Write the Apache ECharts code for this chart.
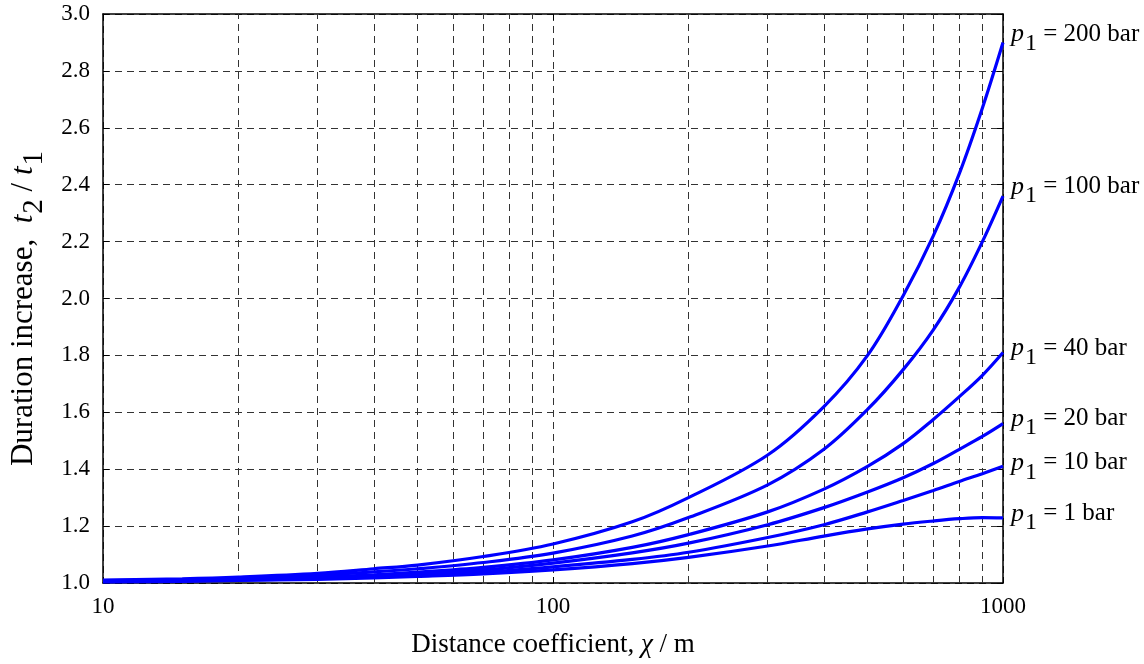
<!DOCTYPE html>
<html>
<head>
<meta charset="utf-8">
<script src="https://cdn.jsdelivr.net/npm/echarts@6/dist/echarts.min.js"></script>
<style>
  html, body { margin: 0; padding: 0; background: #fff; }
  #main { width: 1144px; height: 664px; }
</style>
</head>
<body>
<div id="main"></div>
<script>
// distance coefficient (m)
const distance = [10, 15, 20, 30, 40, 50, 70, 100, 150, 200, 300, 400, 500, 600, 700, 800, 900, 1000];

// duration increase t2/t1 for each initial pressure
const p200 = [1.010, 1.015, 1.021, 1.034, 1.050, 1.063, 1.093, 1.137, 1.215, 1.300, 1.450, 1.620, 1.800, 2.010, 2.220, 2.440, 2.670, 2.900];
const p100 = [1.008, 1.012, 1.017, 1.028, 1.039, 1.050, 1.072, 1.105, 1.165, 1.230, 1.345, 1.470, 1.610, 1.750, 1.890, 2.040, 2.200, 2.360];
const p40 = [1.007, 1.010, 1.014, 1.021, 1.029, 1.038, 1.055, 1.081, 1.125, 1.170, 1.250, 1.330, 1.410, 1.490, 1.575, 1.655, 1.730, 1.810];
const p20 = [1.006, 1.009, 1.012, 1.018, 1.025, 1.032, 1.046, 1.070, 1.106, 1.140, 1.205, 1.265, 1.320, 1.370, 1.420, 1.470, 1.515, 1.560];
const p10 = [1.005, 1.008, 1.010, 1.016, 1.021, 1.027, 1.038, 1.057, 1.083, 1.108, 1.160, 1.205, 1.250, 1.290, 1.325, 1.357, 1.384, 1.410];
const p1 = [1.004, 1.006, 1.009, 1.013, 1.018, 1.023, 1.032, 1.046, 1.068, 1.090, 1.130, 1.165, 1.190, 1.207, 1.218, 1.226, 1.230, 1.229];

const pressures = ['200', '100', '40', '20', '10', '1'];
const curves = [p200, p100, p40, p20, p10, p1];

// log axis in-between grid positions
const minorGrid = [20, 30, 40, 50, 60, 70, 80, 90, 200, 300, 400, 500, 600, 700, 800, 900];

const FONT = 'Liberation Serif';
const gridLine = { color: '#333', width: 1, type: [7, 5] };
// vertical nudge of each end label
const labelShift = [-7, -8, -3, -4, -2, -3];

const labelRich = {
  it: { fontFamily: FONT, fontStyle: 'italic', fontSize: 26, color: '#000', lineHeight: 28, verticalAlign: 'top' },
  sub: { fontFamily: FONT, fontSize: 24, color: '#000', lineHeight: 28, verticalAlign: 'top', padding: [10, 0, 0, 1] },
  n: { fontFamily: FONT, fontSize: 25, color: '#000', lineHeight: 28, verticalAlign: 'top' }
};

function nameRich(size) {
  return {
    it: { fontFamily: FONT, fontStyle: 'italic', fontSize: size, color: '#000', lineHeight: size + 2, verticalAlign: 'top' },
    sub: { fontFamily: FONT, fontSize: size - 2, color: '#000', lineHeight: size + 2, verticalAlign: 'top', padding: [Math.round(size * 0.4), 0, 0, 1] },
    n: { fontFamily: FONT, fontSize: size, color: '#000', lineHeight: size + 2, verticalAlign: 'top' }
  };
}

const series = curves.map(function (vals, i) {
  const s = {
    name: pressures[i] + ' bar',
    type: 'line',
    data: distance.map(function (d, j) { return [d, vals[j]]; }),
    smooth: 0.35,
    symbol: 'none',
    lineStyle: { color: '#0000ff', width: 3.2 },
    endLabel: {
      show: true,
      distance: 8,
      offset: [0, labelShift[i]],
      formatter: '{it|p}{sub|1}{n| = ' + pressures[i] + ' bar}',
      rich: labelRich
    },
    z: 5
  };
  if (i === 0) {
    s.markLine = {
      silent: true,
      symbol: 'none',
      label: { show: false },
      lineStyle: gridLine,
      emphasis: { disabled: true },
      z: 1,
      data: minorGrid.map(function (v) { return { xAxis: v }; })
    };
  }
  return s;
});

const chart = echarts.init(document.getElementById('main'), null, { renderer: 'canvas' });

const option = {
  animation: false,
  backgroundColor: '#fff',
  grid: { left: 101, right: 141, top: 14, bottom: 81, containLabel: false },
  xAxis: [{
    type: 'log',
    logBase: 10,
    min: 10,
    max: 1000,
    name: '{n|Distance coefficient, }{it|χ}{n| / m}',
    nameLocation: 'middle',
    nameGap: 48,
    nameTextStyle: { rich: nameRich(27) },
    axisLine: { lineStyle: { color: '#000', width: 1.5 } },
    axisTick: { inside: true, length: 6, lineStyle: { color: '#000' } },
    axisLabel: {
      fontFamily: FONT, fontSize: 23, color: '#000', margin: 12,
      formatter: function (v) { return String(v); }
    },
    splitLine: { show: true, lineStyle: gridLine }
  }, {
    type: 'log',
    logBase: 10,
    min: 10,
    max: 1000,
    position: 'top',
    axisLine: { lineStyle: { color: '#000', width: 1.5 } },
    axisTick: { inside: true, length: 6, lineStyle: { color: '#000' } },
    axisLabel: { show: false },
    splitLine: { show: false }
  }],
  yAxis: [{
    type: 'value',
    min: 1.0,
    max: 3.0,
    interval: 0.2,
    name: '{n|Duration increase,  }{it|t}{sub|2}{n| / }{it|t}{sub|1}',
    nameLocation: 'middle',
    nameGap: 62,
    nameRotate: 90,
    nameTextStyle: { rich: nameRich(31), padding: [0, 20, 0, 0] },
    axisLine: { show: true, lineStyle: { color: '#000', width: 1.5 } },
    axisTick: { show: true, inside: true, length: 6, lineStyle: { color: '#000' } },
    axisLabel: {
      fontFamily: FONT, fontSize: 23, color: '#000', margin: 13,
      formatter: function (v) { return v.toFixed(1); }
    },
    splitLine: { show: true, lineStyle: gridLine }
  }, {
    type: 'value',
    min: 1.0,
    max: 3.0,
    interval: 0.2,
    position: 'right',
    axisLine: { show: true, lineStyle: { color: '#000', width: 1.5 } },
    axisTick: { show: true, inside: true, length: 6, lineStyle: { color: '#000' } },
    axisLabel: { show: false },
    splitLine: { show: false }
  }],
  series: series
};

chart.setOption(option);
</script>
</body>
</html>
